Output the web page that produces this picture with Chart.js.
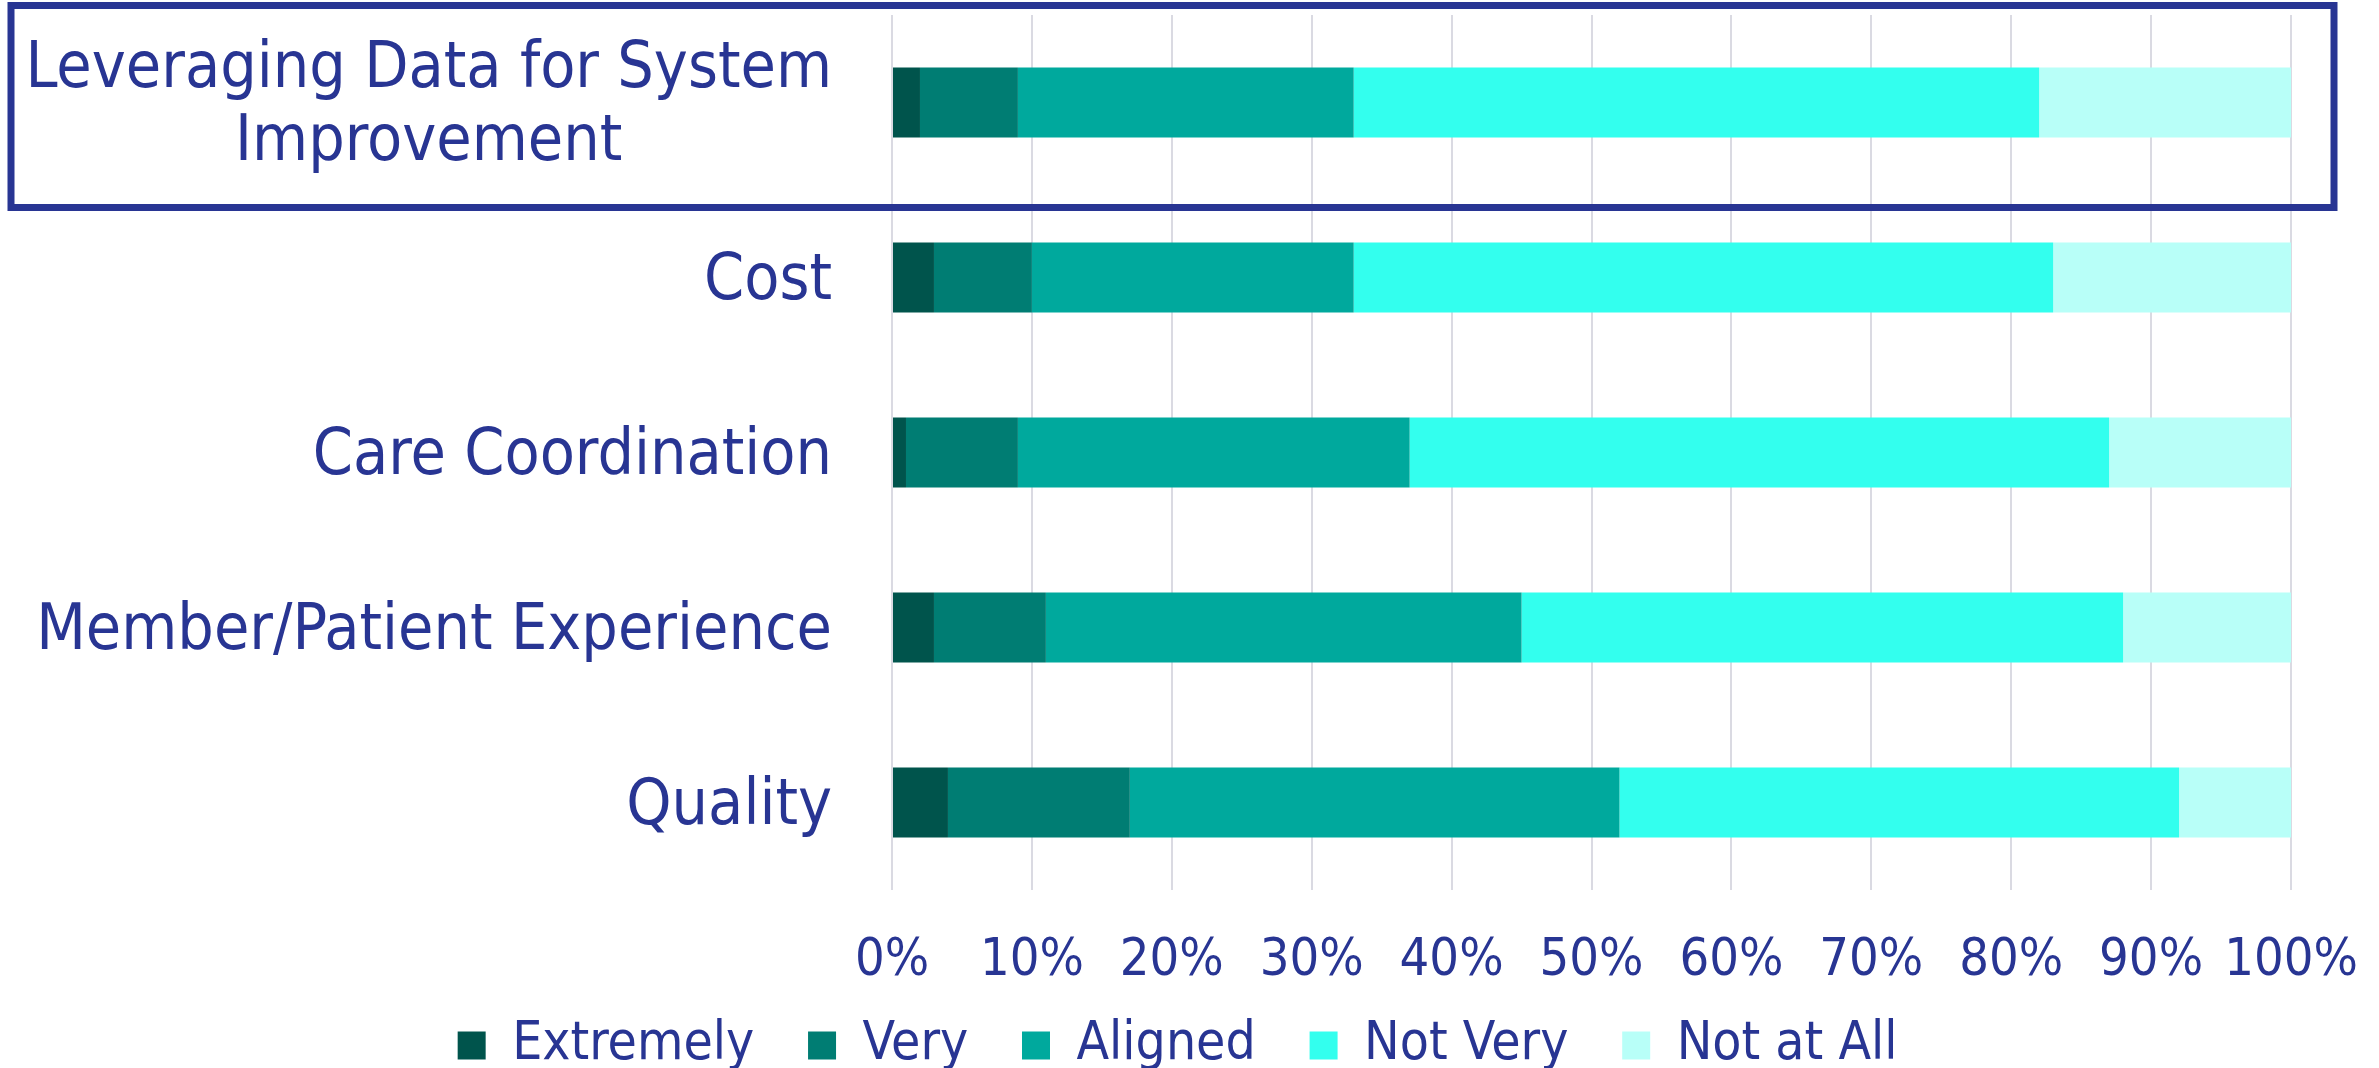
<!DOCTYPE html>
<html>
<head>
<meta charset="utf-8">
<script src="https://cdn.jsdelivr.net/npm/chart.js@4.4.0/dist/chart.umd.min.js"></script>
<style>
  html, body { margin: 0; padding: 0; background: #fff; }
  #wrap { width: 2379px; height: 1068px; }
</style>
</head>
<body>
<div id="wrap"><canvas id="bar-chartcanvas" width="2379" height="1068"></canvas></div>
<script>
// categories and series (percent of respondents)
var categories = ["Leveraging Data for System Improvement", "Cost", "Care Coordination", "Member/Patient Experience", "Quality"];
var extremely = [2, 3, 1, 3, 4];
var very      = [7, 7, 8, 8, 13];
var aligned   = [24, 23, 28, 34, 35];
var notVery   = [49, 50, 50, 43, 40];
var notAtAll  = [18, 17, 13, 12, 8];
var seriesNames = ["Extremely", "Very", "Aligned", "Not Very", "Not at All"];
var tickLabels = ["0%", "10%", "20%", "30%", "40%", "50%", "60%", "70%", "80%", "90%", "100%"];

var navy = "#283593";
var fontFam = "'DejaVu Sans Condensed', 'DejaVu Sans', sans-serif";

function ds(label, values, color) {
	return {
		label : label,
		data : values,
		backgroundColor : color,
		borderWidth : 0,
		barPercentage : 1,
		categoryPercentage : 0.4
	};
}

var data = {
	labels : categories,
	datasets : [
		ds(seriesNames[0], extremely, "#00544c"),
		ds(seriesNames[1], very, "#007d73"),
		ds(seriesNames[2], aligned, "#00a99d"),
		ds(seriesNames[3], notVery, "#33ffee"),
		ds(seriesNames[4], notAtAll, "#b8fff8")
	]
};

// highlight box + two-line centred label for the first category
var highlight = {
	id : "highlight",
	afterDraw : function(chart) {
		var c = chart.ctx, y = chart.scales.y, area = chart.chartArea;
		var cy = y.getPixelForTick(0);
		c.save();
		c.font = "64px " + fontFam;
		c.fillStyle = navy;
		c.textAlign = "center";
		c.textBaseline = "middle";
		var l1 = "Leveraging Data for System", l2 = "Improvement";
		var right = area.left - 60;
		var mid = right - c.measureText(l1).width / 2;
		c.fillText(l1, mid, cy - 32);
		c.fillText(l2, mid, cy + 41);
		c.strokeStyle = navy;
		c.lineWidth = 7;
		c.strokeRect(11, cy - 97, area.right + 43 - 11, 202);
		c.restore();
	}
};

var options = {
	responsive : false,
	animation : false,
	indexAxis : "y",
	layout : { padding : { top : 15, left : 0, right : 0, bottom : -14 } },
	scales : {
		x : {
			stacked : true,
			min : 0,
			max : 100,
			afterBuildTicks : function(scale) {
				scale.ticks = tickLabels.map(function(t, i) { return { value : i * 10 }; });
			},
			afterFit : function(scale) {
				scale.height = 99;
				scale.paddingRight = 88;
			},
			ticks : {
				callback : function(v, i) { return tickLabels[i]; },
				color : navy,
				font : { family : fontFam, size : 52 },
				padding : 40,
				maxRotation : 0,
				autoSkip : false
			},
			grid : { color : "#dadae2", lineWidth : 2, drawTicks : false },
			border : { display : false }
		},
		y : {
			stacked : true,
			afterFit : function(scale) {
				scale.width = 892;
				scale.paddingTop = 0;
				scale.paddingBottom = 0;
			},
			ticks : {
				callback : function(v, i) { return i === 0 ? "" : categories[i]; },
				color : navy,
				font : { family : fontFam, size : 64 },
				padding : 60,
				labelOffset : 5
			},
			grid : { display : false, drawTicks : false },
			border : { display : false }
		}
	},
	plugins : {
		legend : {
			display : true,
			position : "bottom",
			labels : {
				color : navy,
				font : { family : fontFam, size : 53 },
				boxWidth : 28,
				boxHeight : 28,
				padding : 30,
				generateLabels : function(chart) {
					var items = Chart.defaults.plugins.legend.labels.generateLabels(chart);
					items.forEach(function(it) { it.text = it.text + "\u2002"; });
					return items;
				}
			}
		},
		tooltip : { enabled : false }
	}
};

var chart = new Chart(document.getElementById("bar-chartcanvas"), {
	type : "bar",
	data : data,
	options : options,
	plugins : [highlight]
});
</script>
</body>
</html>
